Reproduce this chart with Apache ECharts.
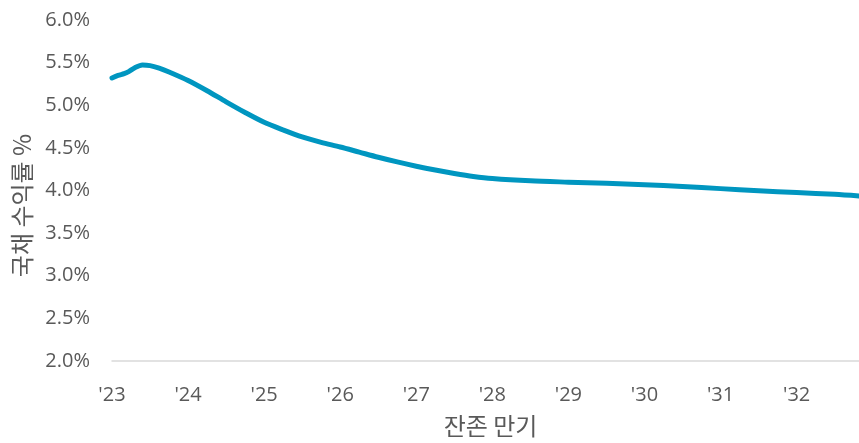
<!DOCTYPE html>
<html>
<head>
<meta charset="utf-8">
<script src="https://cdn.jsdelivr.net/npm/echarts@6/dist/echarts.min.js"></script>
<style>
html,body{margin:0;padding:0;background:#fff;}
#chart{width:859px;height:443px;}
</style>
</head>
<body>
<div id="chart"></div>
<script>
// Remaining maturity (decimal year) and Treasury yield (%)
const maturity = [2023.00, 2023.08, 2023.16, 2023.22, 2023.30, 2023.40, 2023.50, 2023.62, 2023.75,
  2024.00, 2024.25, 2024.50, 2024.75, 2025.00, 2025.25, 2025.50, 2025.75, 2026.00, 2026.25,
  2026.50, 2026.75, 2027.00, 2027.25, 2027.50, 2027.75, 2028.00, 2028.50, 2029.00, 2029.50,
  2030.00, 2030.50, 2031.00, 2031.50, 2032.00, 2032.50, 2032.82];
const yieldPct = [5.32, 5.35, 5.37, 5.395, 5.44, 5.472, 5.465, 5.435, 5.39,
  5.29, 5.17, 5.04, 4.915, 4.80, 4.71, 4.628, 4.565, 4.51, 4.45,
  4.39, 4.335, 4.285, 4.24, 4.20, 4.165, 4.14, 4.113, 4.098, 4.085,
  4.068, 4.047, 4.022, 3.997, 3.976, 3.955, 3.935];
const yTicks = [2.0, 2.5, 3.0, 3.5, 4.0, 4.5, 5.0, 5.5, 6.0];
const xTitle = '잔존 만기';
const yTitle = '국채 수익률 %';

const textColor = '#595959';
const font = '"Open Sans", "Noto Sans CJK KR", sans-serif';
const cjkFont = '"Noto Sans CJK KR", sans-serif';
const chart = echarts.init(document.getElementById('chart'), null, {renderer: 'canvas'});
chart.setOption({
  animation: false,
  grid: {left: 112, right: 0, top: 20, bottom: 78, containLabel: false},
  xAxis: {
    type: 'value',
    min: 2023, max: 2032.82, interval: 1,
    name: xTitle,
    nameLocation: 'middle',
    nameGap: 53,
    nameTextStyle: {color: textColor, fontSize: 24, fontFamily: cjkFont, padding: [0, 0, 0, 10]},
    axisLine: {show: true, lineStyle: {color: '#d9d9d9', width: 1.5}},
    axisTick: {show: false},
    splitLine: {show: false},
    axisLabel: {
      color: textColor, fontSize: 20, fontFamily: font, margin: 24,
      showMaxLabel: false,
      formatter: v => Number.isInteger(Math.round(v * 1000) / 1000) ? "'" + String(Math.round(v) % 100).padStart(2, '0') : ''
    }
  },
  yAxis: {
    type: 'value',
    min: yTicks[0], max: yTicks[yTicks.length - 1], interval: 0.5,
    name: yTitle,
    nameLocation: 'middle',
    nameRotate: 90,
    nameGap: 78,
    nameTextStyle: {color: textColor, fontSize: 24, fontFamily: cjkFont, padding: [0, 30, 0, 0]},
    axisLine: {show: false},
    axisTick: {show: false},
    splitLine: {show: false},
    axisLabel: {
      color: textColor, fontSize: 20, fontFamily: font, margin: 22,
      padding: [6, 0, 0, 0],
      formatter: v => v.toFixed(1) + '%'
    }
  },
  series: [{
    type: 'line',
    data: maturity.map((m, i) => [m, yieldPct[i]]),
    smooth: 0.3,
    showSymbol: false,
    lineStyle: {color: '#0096C0', width: 5, cap: 'round', join: 'round'},
    itemStyle: {color: '#0096C0'}
  }]
});
</script>
</body>
</html>
